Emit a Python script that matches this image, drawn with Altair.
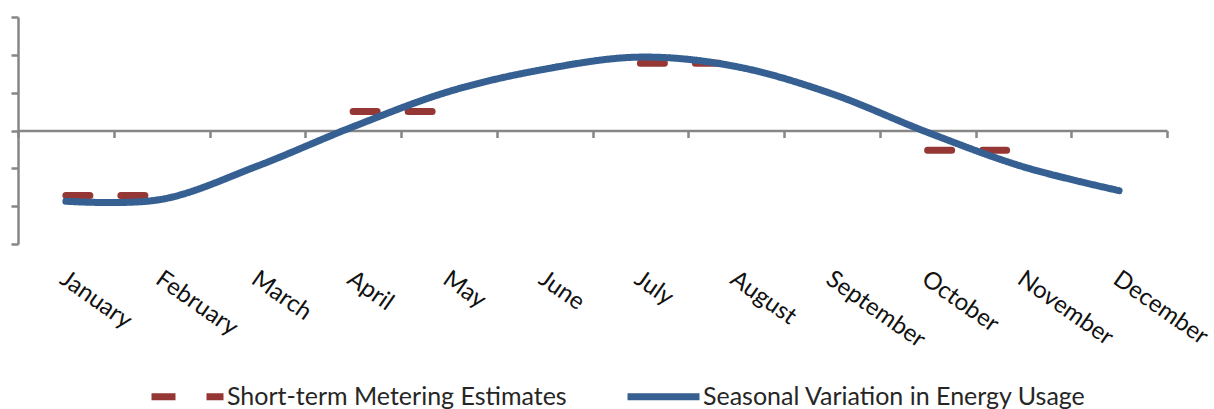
import altair as alt
import pandas as pd

# Month categories along the x axis
months = ["January", "February", "March", "April", "May", "June",
          "July", "August", "September", "October", "November", "December"]

# Smooth seasonal profile of energy usage (relative units)
seasonal_usage = [-1.87, -1.82, -0.94, 0.10, 1.03, 1.62,
                  1.94, 1.69, 0.97, -0.05, -0.96, -1.59]

# Short-term metering estimates: each covers a two-month window
estimate_months = ["January", "February", "April", "May",
                   "July", "August", "October", "November"]
estimate_values = [-1.72, -1.72, 0.50, 0.50, 1.78, 1.78, -0.52, -0.52]
estimate_window = [1, 1, 2, 2, 3, 3, 4, 4]

SERIES = ["Short-term Metering Estimates", "Seasonal Variation in Energy Usage"]
RED = "#953735"
BLUE = "#376092"
AXIS_GREY = "#868686"
FONT = "Lato"

seasonal_df = pd.DataFrame({
    "month": months,
    "value": seasonal_usage,
    "series": SERIES[1],
})
estimate_df = pd.DataFrame({
    "month": estimate_months,
    "value": estimate_values,
    "window": estimate_window,
    "series": SERIES[0],
})

x_enc = alt.X(
    "month:N",
    sort=months,
    scale=alt.Scale(type="band", domain=months, paddingInner=0, paddingOuter=0),
    axis=alt.Axis(
        orient="bottom",
        offset=-113.5,
        title=None,
        grid=False,
        domainColor=AXIS_GREY,
        domainWidth=2.5,
        tickColor=AXIS_GREY,
        tickWidth=2.5,
        tickSize=7,
        tickBand="extent",
        labelAngle=35,
        labelAlign="left",
        labelBaseline="top",
        labelPadding=129,
        labelOffset=3,
        labelFont=FONT,
        labelFontSize=24,
        labelColor="#111111",
        labelOverlap=False,
    ),
)

y_enc = alt.Y(
    "value:Q",
    scale=alt.Scale(domain=[-3, 3], nice=False, zero=False),
    axis=alt.Axis(
        values=[-3, -2, -1, 0, 1, 2, 3],
        labels=False,
        title=None,
        grid=False,
        domainColor=AXIS_GREY,
        domainWidth=2.5,
        tickColor=AXIS_GREY,
        tickWidth=2.5,
        tickSize=7,
    ),
)

legend = alt.Legend(
    title=None,
    orient="none",
    legendX=130,
    legendY=340,
    direction="horizontal",
    symbolType="stroke",
    symbolSize=5184,
    symbolStrokeWidth=7,
    labelFont=FONT,
    labelFontSize=25,
    labelColor="#262626",
    labelOffset=0,
    labelLimit=600,
    columnPadding=46,
    padding=0,
)

color_enc = alt.Color(
    "series:N",
    scale=alt.Scale(domain=SERIES, range=[RED, BLUE]),
    legend=legend,
)
dash_enc = alt.StrokeDash(
    "series:N",
    scale=alt.Scale(domain=SERIES, range=[[24, 31], [1, 0]]),
    legend=legend,
)

estimates = alt.Chart(estimate_df).mark_line(
    strokeWidth=7, strokeCap="round"
).encode(
    x=x_enc, y=y_enc, color=color_enc, strokeDash=dash_enc, detail="window:N"
)

seasonal = alt.Chart(seasonal_df).mark_line(
    strokeWidth=7, strokeCap="round", interpolate="cardinal"
).encode(
    x=x_enc, y=y_enc, color=color_enc, strokeDash=dash_enc
)

chart = alt.layer(estimates, seasonal).properties(
    width=1149,
    height=227,
    background="white",
    autosize=alt.AutoSizeParams(type="none"),
    padding={"left": 18, "top": 17, "right": 47, "bottom": 165},
).configure_view(strokeWidth=0)

chart.save("out.html", embed_options={"renderer": "svg", "actions": False})
